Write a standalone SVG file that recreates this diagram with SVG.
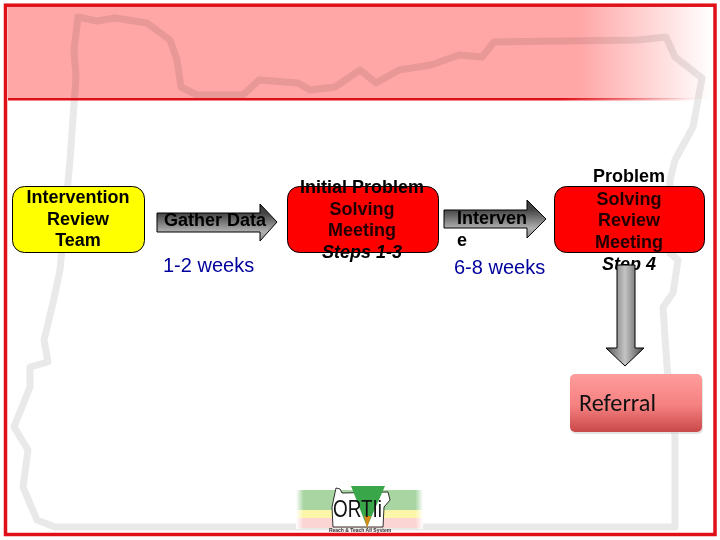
<svg xmlns="http://www.w3.org/2000/svg" width="720" height="540" viewBox="0 0 720 540">
<style>
text{font-family:"Liberation Sans",Arial,sans-serif}
.b{font-weight:700;font-size:18px;fill:#000;text-anchor:middle}
.d{fill:#200000}
.w{font-size:20px;fill:#00009c}
.n{stroke:#000;stroke-width:1}
.a{stroke:#000;stroke-width:1}
.o{fill:none;stroke:#e9e9e9;stroke-width:7;stroke-linejoin:round}
</style>
<defs>
<linearGradient id="band" x1="0" x2="1" y1="0" y2="0"><stop offset="0" stop-color="#ffa6a6"/><stop offset=".81" stop-color="#ffa6a6"/><stop offset="1" stop-color="#ffffff"/></linearGradient>
<linearGradient id="line" x1="0" x2="1" y1="0" y2="0"><stop offset="0" stop-color="#e01018"/><stop offset=".8" stop-color="#e01018"/><stop offset="1" stop-color="#e01018" stop-opacity="0"/></linearGradient>
<linearGradient id="gh" x1="0" x2="0" y1="0" y2="1"><stop offset="0" stop-color="#3c3c3c"/><stop offset=".25" stop-color="#444"/><stop offset=".75" stop-color="#b0b0b0"/><stop offset="1" stop-color="#8c8c8c"/></linearGradient>
<linearGradient id="gv" x1="0" x2="1" y1="0" y2="0"><stop offset="0" stop-color="#555"/><stop offset=".5" stop-color="#c4c4c4"/><stop offset="1" stop-color="#444"/></linearGradient>
<linearGradient id="ref" x1="0" x2="0" y1="0" y2="1"><stop offset="0" stop-color="#ff9c9c"/><stop offset=".55" stop-color="#f58080"/><stop offset="1" stop-color="#c94848"/></linearGradient>
<linearGradient id="lg" x1="0" x2="1" y1="0" y2="0"><stop offset="0" stop-color="#fff"/><stop offset=".06" stop-color="#fff" stop-opacity="0"/><stop offset=".94" stop-color="#fff" stop-opacity="0"/><stop offset="1" stop-color="#fff"/></linearGradient>
</defs>
<rect width="720" height="540" fill="#fff"/>
<path class="o" d="M78 17L97 21L115 18L147 23L170 40L177 60L181 87L197 95L243 95L259 80L298 83L310 90L335 87L360 70L376 83L399 70L431 65L459 55L482 57L494 42L638 40L666 37L675 57L702 78L693 127L675 160L670 180L670 253L678 260L673 293L663 307L667 367L675 437L675 527L55 527L37 520L23 487L28 450L14 427L30 387L30 367L48 362L44 340L53 303L60 270L70 160L76 77L74 50Z"/>
<rect x="8" y="7" width="704" height="92" fill="url(#band)" style="mix-blend-mode:multiply"/>
<rect x="8" y="98" width="690" height="2.500" fill="url(#line)"/>
<g id="logo">
<rect x="296" y="490" width="127" height="20" fill="#a9d5a3"/>
<rect x="296" y="510" width="127" height="8" fill="#fbf6a8"/>
<rect x="296" y="518" width="127" height="10" fill="#fbd4d4"/>
<rect x="296" y="489" width="127" height="40" fill="url(#lg)"/>
<path d="M336 488L340 489L342 493L388 492L390 500L384 507L383 527L333 527L332 507Z" fill="#fff" stroke="#000" stroke-width=".8"/>
<path d="M351 486L385 486L367 527Z" fill="#3aa64a"/>
<path d="M364 516L371 516L367 528Z" fill="#d88a18"/>
<text x="333" y="517" style="font-size:24px;fill:#111" textLength="49" lengthAdjust="spacingAndGlyphs">ORTIi</text>
<text x="360" y="532" text-anchor="middle" style="font-size:5px;font-weight:700;fill:#333">Reach &amp; Teach All System</text>
</g>
<rect x="5.500" y="5.200" width="709.500" height="529.300" fill="none" stroke="#e01018" stroke-width="3.500"/>
<g id="connectors">
<path id="arrow1" class="a" fill="url(#gh)" d="M157 213H260V204L277 222L260 241V232H157Z"/>
<path id="arrow2" class="a" fill="url(#gh)" d="M444 210H527V200L546 219L527 238V228H444Z"/>
</g>
<g id="intervention-review-team">
<rect class="n" x="12.500" y="186.500" width="132" height="66" rx="12" fill="#ff0"/>
<text class="b" x="78" y="203">Intervention</text><text class="b" x="78" y="225">Review</text><text class="b" x="78" y="246">Team</text>
</g>
<g id="gather-data">
<text class="b" x="215" y="226">Gather Data</text>
<text class="w" x="163" y="272">1-2 weeks</text>
</g>
<g id="initial-problem">
<rect class="n" x="287.500" y="186.500" width="151" height="66" rx="12" fill="#f00"/>
<text class="b" x="362" y="193">Initial Problem</text><text class="b d" x="362" y="215">Solving</text><text class="b d" x="362" y="236">Meeting</text><text class="b" x="362" y="258" font-style="italic">Steps 1-3</text>
</g>
<g id="intervene">
<text class="b" x="457" y="224" style="text-anchor:start">Interven</text><text class="b" x="457" y="246" style="text-anchor:start">e</text>
<text class="w" x="454" y="274">6-8 weeks</text>
</g>
<g id="problem-review">
<rect class="n" x="554.500" y="186.500" width="150" height="66" rx="12" fill="#f00"/>
<text class="b" x="629" y="182">Problem</text><text class="b d" x="629" y="205">Solving</text><text class="b d" x="629" y="226">Review</text><text class="b d" x="629" y="248">Meeting</text><text class="b" x="629" y="270" font-style="italic">Step 4</text>
</g>
<g id="connector-down">
<path class="a" fill="url(#gv)" d="M617 265H635V348H644L625 366L606 348H617Z"/>
</g>
<g id="referral">
<rect x="571" y="376" width="132" height="58" rx="5" fill="#c9c9c9" opacity=".5"/>
<rect x="570" y="374" width="132" height="58" rx="5" fill="url(#ref)"/>
<text x="579" y="411" style="font-family:Carlito,Lato,sans-serif;font-size:25px;fill:#111" textLength="77" lengthAdjust="spacingAndGlyphs">Referral</text>
</g>
</svg>
